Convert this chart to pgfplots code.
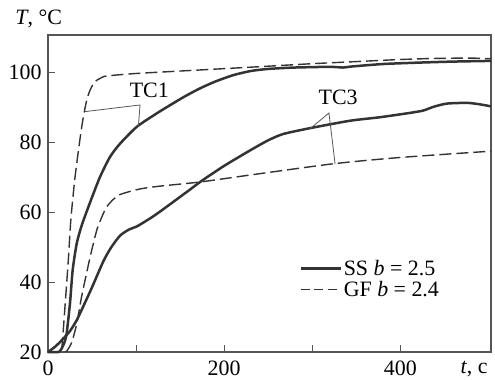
\documentclass[border=0pt]{standalone}
\usepackage{pgfplots}
\pgfplotsset{compat=1.18}
\usepackage{fontspec}
\setmainfont{Liberation Serif}
\definecolor{crv}{HTML}{333333}
\definecolor{axc}{HTML}{555555}
\begin{document}
\begin{tikzpicture}[font=\fontsize{22}{26}\selectfont]
\begin{axis}[
  at={(0,0)}, anchor=origin,
  scale only axis, width=443bp, height=317bp,
  xmin=0, xmax=503, ymin=20, ymax=110.6,
  xtick={0,100,200,300,400}, xticklabels={0,,200,,400},
  ytick={20,40,60,80,100},
  tick align=inside, xtick pos=bottom, ytick pos=left,
  major tick length=7bp,
  axis line style={color=axc, line width=1.2bp},
  tick style={color=axc, line width=0.9bp},
  /pgf/number format/assume math mode=true,
  xticklabel style={yshift=-5bp},
  yticklabel style={xshift=-3bp},
  clip=false,
  legend cell align=left,
  legend style={draw=none, fill=none, at={(rel axis cs:0.56,0.23)}, anchor=west,
    row sep=0bp, font=\fontsize{22}{26}\selectfont},
  legend image code/.code={\draw[#1] (0bp,0bp) -- (40bp,0bp);},
]
% TC1 solid
\addplot[crv, line width=2.5bp, smooth, tension=0.4] coordinates {
(0,20)(12,20)(15,20.8)(18,22.3)(21,25)(25,34)(28,43.4)(32.6,51)(38.3,56.2)(47.7,62.7)(59,70)(70.5,75.8)(82,79.6)(101,84.4)(123.5,88.2)(135,90)(155,93)(173,95.4)(190,97.3)(210,99.1)(230,100.3)(250,100.9)(280,101.3)(320,101.5)(335,101.3)(345,101.6)(380,102.3)(420,102.7)(460,103)(503,103.2)};
\addlegendentry{SS \textit{b} = 2.5}
% TC1 dashed
\addplot[crv, line width=1.4bp, dash pattern=on 12bp off 5bp, smooth, tension=0.4, forget plot] coordinates {
(0,20)(13,20)(15.5,20.5)(19.3,33)(23,46)(26,58)(30.7,70)(36.4,81)(40,87)(44,92)(48,95)(53.4,97.3)(60,98.3)(66.7,98.9)(100,99.6)(150,100.3)(230,101.4)(300,102.4)(350,103)(400,103.6)(440,103.9)(480,104)(503,103.8)};
% TC3 solid
\addplot[crv, line width=2.5bp, smooth, tension=0.4, forget plot] coordinates {
(0,20)(8,21.5)(15,23.2)(25,26)(32.6,29.1)(40,33)(50,38.5)(63,46)(72,50)(82,53.3)(92,55)(101,55.9)(116,58.2)(127,60.1)(146,63.6)(160,66.2)(175,69)(200,73.2)(230,77.7)(250,80.5)(267,82.3)(298,84)(343,86.1)(377,87.1)(410,88.3)(426,89)(438,90.1)(453,91)(476,91.2)(490,90.8)(503,90.2)};
% TC3 dashed
\addplot[crv, line width=1.4bp, dash pattern=on 12bp off 5bp, smooth, tension=0.4, forget plot] coordinates {
(0,20)(19,20)(22,20.5)(27,22.8)(32.6,28)(38.3,36)(47.7,47)(55,54.5)(59,57.3)(66.7,61.5)(80,64.8)(104.5,66.6)(127,67.4)(173,68.6)(230,70.6)(324,73.8)(400,75.6)(503,77.4)};
% legend entry for dashed
\addlegendimage{crv, line width=1.4bp, dash pattern=on 9bp off 4.5bp}
\addlegendentry{GF \textit{b} = 2.4}
% leader lines
\draw[axc, line width=0.8bp] (axis cs:42,88.7) -- (axis cs:104.5,90.6) -- (axis cs:102.6,84.4);
\draw[axc, line width=0.8bp] (axis cs:297,83.7) -- (axis cs:319,88.3) -- (axis cs:326,73.7);
\node at (axis cs:115,94.9) {TC1};
\node at (axis cs:329.5,92.9) {TC3};
\node[anchor=base west] at (axis cs:-41,113.5) {\textit{T}, °C};
\node[anchor=east] at (axis cs:503,15) {\textit{t}, c};
\end{axis}
\pgfresetboundingbox
\useasboundingbox (-48bp,-28bp) rectangle (447bp,352bp);
\end{tikzpicture}
\end{document}
